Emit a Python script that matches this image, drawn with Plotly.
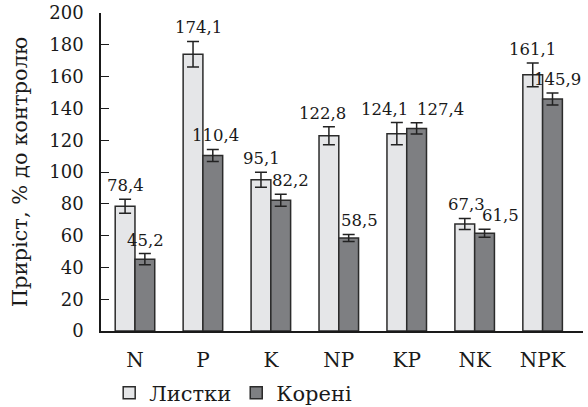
import plotly.graph_objects as go

# Growth of leaves and roots relative to control, by fertiliser treatment
categories = ["N", "P", "K", "NP", "KP", "NK", "NPK"]
leaves = [78.4, 174.1, 95.1, 122.8, 124.1, 67.3, 161.1]
roots = [45.2, 110.4, 82.2, 58.5, 127.4, 61.5, 145.9]
leaves_err = [4.4, 8.0, 4.7, 5.7, 7.0, 3.5, 7.5]
roots_err = [3.5, 3.8, 3.8, 2.2, 3.5, 2.5, 3.8]
y_ticks = list(range(0, 201, 20))

SERIF = "DejaVu Serif"
BARGAP = 0.418
OUTLINE = "#2b2b2b"
INK = "#1a1a1a"

# small horizontal nudges (px) that keep neighbouring value labels apart
leaves_label_shift = [0, 5, 1, -6, -12, 2, 0]
roots_label_shift = [1, 3, 10, 11, 24, 16, 5]


def fmt(v):
    return f"{v:.1f}".replace(".", ",")


fig = go.Figure()
fig.add_trace(go.Bar(
    name="Листки", x=categories, y=leaves,
    marker=dict(color="#e5e6e8", line=dict(color=OUTLINE, width=1.5)),
    error_y=dict(type="data", array=leaves_err, color="#222222", thickness=1.5, width=6),
))
fig.add_trace(go.Bar(
    name="Корені", x=categories, y=roots,
    marker=dict(color="#7e7f82", line=dict(color=OUTLINE, width=1.5)),
    error_y=dict(type="data", array=roots_err, color="#222222", thickness=1.5, width=6),
))

# value labels sit just above each error bar
half = (1 - BARGAP) / 4
annotations = []
for i in range(len(categories)):
    for vals, errs, shifts, off in (
        (leaves, leaves_err, leaves_label_shift, -half),
        (roots, roots_err, roots_label_shift, half),
    ):
        annotations.append(dict(
            x=i + off, y=vals[i] + errs[i], xref="x", yref="y",
            text=fmt(vals[i]), showarrow=False,
            xanchor="center", yanchor="bottom", yshift=2, xshift=shifts[i],
            font=dict(family=SERIF, size=16.5, color=INK),
        ))

fig.update_layout(
    width=588, height=407,
    margin=dict(l=101, r=5, t=13, b=76, autoexpand=False),
    paper_bgcolor="white", plot_bgcolor="white",
    barmode="group", bargap=BARGAP, bargroupgap=0,
    font=dict(family=SERIF, color=INK),
    annotations=annotations,
    showlegend=True,
    legend=dict(
        orientation="h", x=0.017, xanchor="left",
        yref="container", y=0.034, yanchor="middle",
        font=dict(family=SERIF, size=21, color=INK),
        itemwidth=30, traceorder="normal",
    ),
)
fig.update_yaxes(
    range=[0, 200], tickvals=y_ticks,
    showline=True, linecolor=INK, linewidth=1.5,
    ticks="inside", ticklen=8, tickwidth=1.3, tickcolor=INK,
    showgrid=False, zeroline=False,
    tickfont=dict(family=SERIF, size=18, color=INK),
    ticklabelstandoff=12,
    title=dict(text="Приріст, % до контролю", font=dict(family=SERIF, size=21, color=INK), standoff=16),
)
fig.update_xaxes(
    showline=True, linecolor=INK, linewidth=1.5,
    ticks="", showgrid=False,
    tickfont=dict(family=SERIF, size=20, color=INK),
    ticklabelstandoff=10,
)

fig.write_html("out.html")
